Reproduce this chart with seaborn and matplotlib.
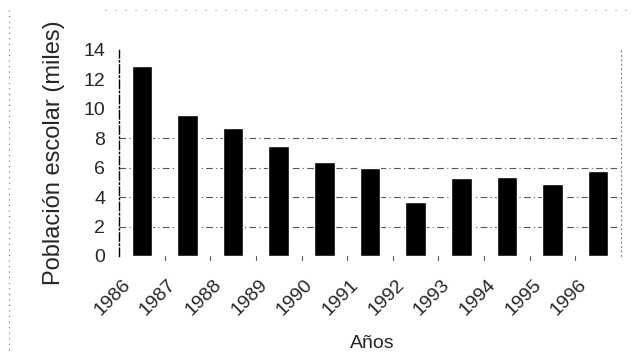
import matplotlib
matplotlib.use("Agg")
import matplotlib.pyplot as plt
import matplotlib.transforms as mtransforms
from matplotlib.lines import Line2D
import seaborn as sns
import pandas as pd
import numpy as np

years = ["1986", "1987", "1988", "1989", "1990", "1991", "1992", "1993", "1994", "1995", "1996"]
poblacion = [12.9, 9.6, 8.7, 7.5, 6.4, 6.0, 3.7, 5.3, 5.4, 4.9, 5.8]
yticks = [0, 2, 4, 6, 8, 10, 12, 14]
grid_levels = [2, 4, 6, 8]

sns.set_theme(style="white")
plt.rcParams['font.family'] = ['Liberation Sans', 'DejaVu Sans']

df = pd.DataFrame({"Años": years, "Poblacion": poblacion})

fig = plt.figure(figsize=(6.39, 3.59), dpi=100)
ax = fig.add_axes([119/639, 1-256/359, (621-119)/639, (256-50)/359])

sns.barplot(data=df, x="Años", y="Poblacion", color="black", width=0.45,
            saturation=1, ax=ax, zorder=3)

ax.set_ylim(0, 14)
ax.set_yticks(yticks)
ax.set_yticklabels([str(t) for t in yticks], fontsize=14)
ax.set_xlim(-0.5, len(years) - 0.5)
for t in grid_levels:
    ax.axhline(t, color="#555555", lw=0.8, ls=(0, (6, 3, 1, 3)), zorder=1)

ax.tick_params(axis="y", length=0, pad=10)
ax.tick_params(axis="x", length=0, pad=6)
ax.set_xticks(range(len(years)))
ax.set_xticklabels(years, rotation=45, ha="right", fontsize=14)
offset = mtransforms.ScaledTranslation(-8/100, -12/100, fig.dpi_scale_trans)
for lab in ax.get_xticklabels():
    lab.set_transform(lab.get_transform() + offset)

ax.set_ylabel("Población escolar (miles)", fontsize=17)
ax.yaxis.set_label_coords(-(119-65)/502, 0.5)
ax.set_xlabel("Años", fontsize=14)
ax.xaxis.set_label_coords((372-119)/502, -(335-256)/206)

for s in ["top", "bottom"]:
    ax.spines[s].set_visible(False)
ax.spines["left"].set_color("black")
ax.spines["left"].set_linewidth(1.0)
ax.spines["left"].set_linestyle((0, (6, 2, 1, 2)))
ax.spines["right"].set_color("#888888")
ax.spines["right"].set_linewidth(0.8)
ax.spines["right"].set_linestyle((0, (1, 3)))

# small marks at category boundaries below the bars
for b in np.arange(0.5, len(years) - 0.5, 1.0):
    ax.plot([b, b], [0, -0.25], color="#555555", lw=0.8, clip_on=False, zorder=2)

# faint dotted frame of the original figure
fig.add_artist(Line2D([9/639, 9/639], [1-10/359, 1-350/359], transform=fig.transFigure,
                      color="#777777", lw=0.8, ls=(0, (1, 4))))
fig.add_artist(Line2D([105/639, 630/639], [1-10/359, 1-10/359], transform=fig.transFigure,
                      color="#999999", lw=0.8, ls=(0, (1, 8))))

fig.savefig("out.png", dpi=100)
